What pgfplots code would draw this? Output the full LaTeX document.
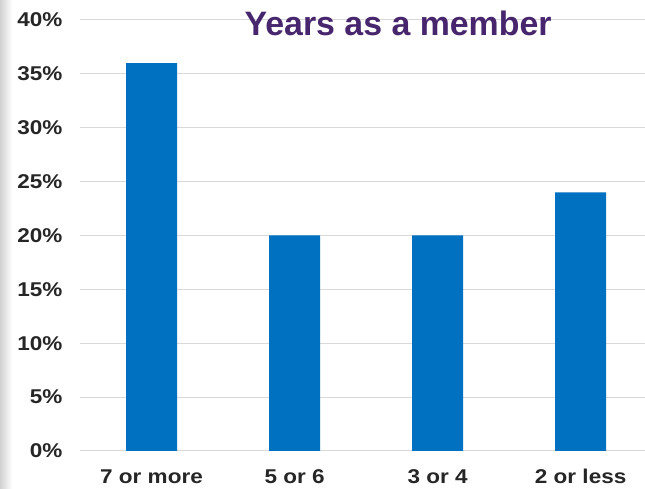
\documentclass[border=0pt]{standalone}
\usepackage{pgfplots}
\pgfplotsset{compat=1.18}
\usepackage{fontspec}
\setmainfont{Liberation Sans}
\definecolor{barblue}{HTML}{0070C0}
\definecolor{titlepurple}{HTML}{47266E}
\definecolor{gridgray}{HTML}{D9D9D9}
\newcommand{\sx}[1]{\scalebox{1.13}[1]{#1}}
\begin{document}
\begin{tikzpicture}[x=1bp,y=1bp]
\useasboundingbox (0,0) rectangle (645,489);
\shade[left color=black!18, right color=white] (0,0) rectangle (12,489);
\begin{axis}[
  at={(80bp,38bp)}, anchor=south west,
  scale only axis, width=565bp, height=431bp,
  ymin=0, ymax=40, xmin=-0.5, xmax=3.45,
  axis line style={draw=none},
  major tick length=0pt,
  ytick={0,5,...,40},
  yticklabel={\sx{\pgfmathprintnumber{\tick}\%}},
  ymajorgrids, grid style={gridgray, line width=1bp},
  xtick={0,1,2,3},
  xticklabels={\sx{7 or more},\sx{5 or 6},\sx{3 or 4},\sx{2 or less}},
  every tick label/.append style={font=\fontsize{20}{24}\selectfont\bfseries, text=black!85},
  /pgf/number format/assume math mode=true,
  yticklabel style={xshift=-14bp},
  xticklabel style={yshift=-15bp},
  title={Years as a member},
  title style={at={(axis description cs:0.563,0.949)}, anchor=base, font=\fontsize{34}{38}\selectfont\bfseries, text=titlepurple},
  clip=false,
]
\addplot[ybar, bar width=51bp, fill=barblue, draw=none] coordinates {(0,36) (1,20) (2,20) (3,24)};
\end{axis}
\end{tikzpicture}
\end{document}
